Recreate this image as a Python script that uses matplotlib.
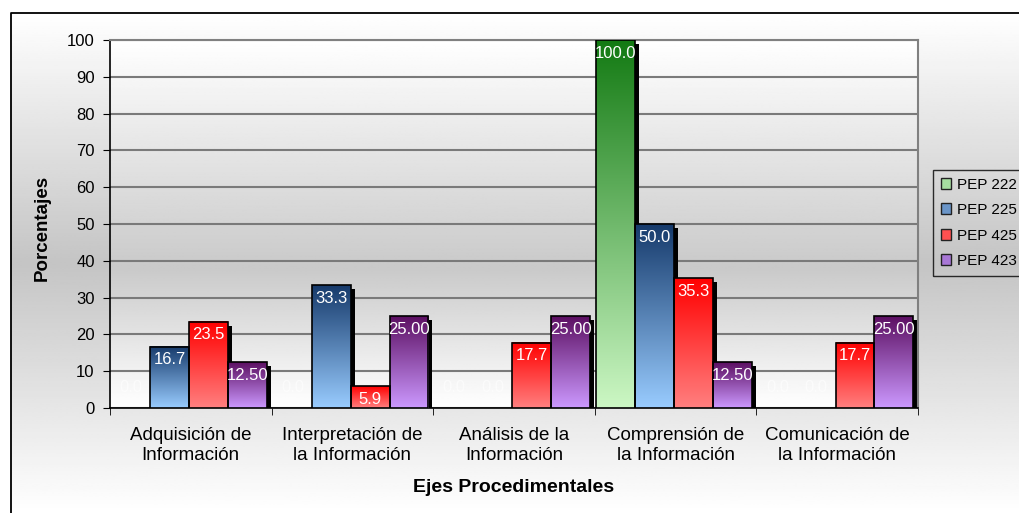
import matplotlib
matplotlib.use("Agg")
import matplotlib.pyplot as plt
import matplotlib.transforms as mtransforms
from matplotlib.colors import LinearSegmentedColormap
from matplotlib.patches import Rectangle, Patch
from matplotlib.lines import Line2D
import numpy as np

plt.rcParams["font.family"] = ["Liberation Sans", "DejaVu Sans"]

categories = [
	"Adquisición de\nInformación",
	"Interpretación de\nla Información",
	"Análisis de la\nInformación",
	"Comprensión de\nla Información",
	"Comunicación de\nla Información",
]
series_names = ["PEP 222", "PEP 225", "PEP 425", "PEP 423"]
pep222 = [0, 0, 0, 100.0, 0]
pep225 = [16.7, 33.3, 0, 50.0, 0]
pep425 = [23.5, 5.9, 17.7, 35.3, 17.7]
pep423 = [12.5, 25.0, 25.0, 12.5, 25.0]
label_formats = ["{:.1f}", "{:.1f}", "{:.1f}", "{:.2f}"]
y_ticks = list(range(0, 101, 10))

# (bottom colour, top colour) for each series gradient
gradients = [
	("#ccf7c4", "#137a13"),
	("#99ccff", "#163a6b"),
	("#ff8080", "#ff0000"),
	("#cc99ff", "#5c0f62"),
]
legend_colors = ["#a6dda0", "#6a95c8", "#ff5050", "#a877d6"]

values = [pep222, pep225, pep425, pep423]

fig = plt.figure(figsize=(10.2, 5.13), dpi=100)

def vertical_gradient(peak_pos, gray):
	# white -> gray -> white, peak_pos measured from top (0..1)
	t = np.linspace(0, 1, 256)
	dist = np.where(t < peak_pos, (peak_pos - t) / peak_pos, (t - peak_pos) / (1 - peak_pos))
	level = 1 - (1 - gray) * (1 - dist)
	return np.repeat(level.reshape(-1, 1), 2, axis=1)

# figure background inside the frame
bg_left = 11 / 1020
bg_top = 1 - 13 / 513
bg = fig.add_axes([bg_left, 0, 1 - bg_left, bg_top], zorder=-10)
bg.imshow(vertical_gradient(0.5, 0.77), cmap="gray", vmin=0, vmax=1, aspect="auto", extent=(0, 1, 0, 1), origin="upper")
bg.set_axis_off()
fig.add_artist(Line2D([bg_left, bg_left, 1.0], [0, bg_top, bg_top], color="black", lw=1.3, transform=fig.transFigure))

ax = fig.add_axes([110 / 1020, 1 - 408 / 513, 808 / 1020, 368 / 513])
ax.imshow(vertical_gradient(0.62, 0.79), cmap="gray", vmin=0, vmax=1, aspect="auto",
	extent=(0, 1, 0, 1), transform=ax.transAxes, origin="upper", zorder=0)

n_cat = len(categories)
width = 0.24
x = np.arange(n_cat)
shadow_offset = mtransforms.ScaledTranslation(4 / 100, -4 / 100, fig.dpi_scale_trans)
ramp = np.linspace(0, 1, 256).reshape(-1, 1)

for j, (vals, (c_bottom, c_top), fmt) in enumerate(zip(values, gradients, label_formats)):
	cmap = LinearSegmentedColormap.from_list(series_names[j], [c_bottom, c_top])
	for i, v in enumerate(vals):
		x0 = x[i] + (j - 2) * width - 0.01
		if v > 0:
			shadow = Rectangle((x0, 0), width, v, facecolor="black", edgecolor="none",
				transform=ax.transData + shadow_offset, zorder=2)
			ax.add_patch(shadow)
			ax.imshow(ramp, cmap=cmap, aspect="auto", extent=(x0, x0 + width, 0, v), origin="lower", zorder=3)
			ax.add_patch(Rectangle((x0, 0), width, v, facecolor="none", edgecolor="black", lw=1.2, zorder=4))
			ax.annotate(fmt.format(v), (x0 + width / 2, v), xytext=(0, -4), textcoords="offset points",
				ha="center", va="top", color="white", fontsize=12, zorder=5)
		else:
			ax.annotate(fmt.format(v), (x0 + width / 2, 0), xytext=(0, 9), textcoords="offset points",
				ha="center", va="bottom", color="white", fontsize=12, alpha=0.6, zorder=5)

ax.set_xlim(-0.5, n_cat - 0.5)
ax.set_ylim(0, 100)
ax.set_yticks(y_ticks)
ax.set_yticklabels([str(t) for t in y_ticks], fontsize=12)
ax.yaxis.grid(True, color="#7a7a7a", lw=1.5, zorder=1)
ax.set_axisbelow(True)

ax.set_xticks(x)
ax.set_xticklabels(categories, fontsize=13.5, linespacing=1.2)
ax.tick_params(axis="x", which="major", length=0, pad=14)
ax.set_xticks(np.arange(-0.5, n_cat, 1), minor=True)
ax.tick_params(axis="x", which="minor", length=5, direction="out")
ax.tick_params(axis="y", length=5, direction="out", pad=6)

for side in ["top", "right"]:
	ax.spines[side].set_color("#808080")
	ax.spines[side].set_linewidth(1.5)
for side in ["left", "bottom"]:
	ax.spines[side].set_color("black")
	ax.spines[side].set_linewidth(1.2)

fig.text(42 / 1020, 1 - 228 / 513, "Porcentajes", rotation=90, ha="center", va="center",
	fontsize=13.5, fontweight="bold")
fig.text(514 / 1020, 1 - 488 / 513, "Ejes Procedimentales", ha="center", va="center",
	fontsize=14, fontweight="bold")

handles = [Patch(facecolor=c, edgecolor="#222222", lw=1) for c in legend_colors]
leg = fig.legend(handles, series_names, loc="upper left", bbox_to_anchor=(933 / 1020, 1 - 170 / 513),
	fontsize=11, frameon=True, fancybox=False, handlelength=0.7, handleheight=0.7,
	handletextpad=0.4, labelspacing=0.75, borderpad=0.5, borderaxespad=0)
leg.get_frame().set_edgecolor("black")
leg.get_frame().set_facecolor("none")
leg.get_frame().set_linewidth(1.0)

fig.savefig("out.png", dpi=100)
